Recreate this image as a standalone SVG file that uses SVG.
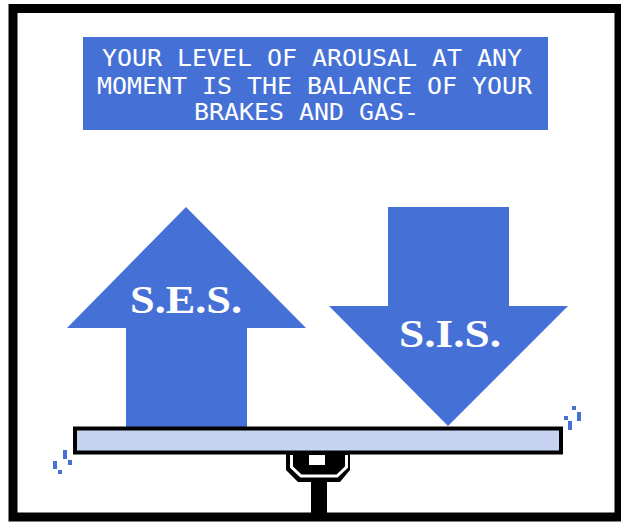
<svg xmlns="http://www.w3.org/2000/svg" width="621" height="523" viewBox="0 0 621 523">
<style>
.blue{fill:#4571D7}
.cap{font-family:"DejaVu Sans Mono","Liberation Mono",monospace;font-size:23px;fill:#FFFFFF}
.lbl{font-family:"Liberation Serif","Times New Roman",serif;font-weight:bold;fill:#FFFFFF}
</style>
<rect x="0" y="0" width="621" height="523" fill="#FFFFFF"/>
<g id="frame">
<rect x="13" y="8.5" width="606" height="508.5" fill="#FFFFFF" stroke="#000000" stroke-width="9"/>
</g>
<g id="caption">
<rect class="blue" x="83" y="37" width="465" height="93"/>
<text class="cap" x="102" y="66" textLength="420" lengthAdjust="spacingAndGlyphs">YOUR LEVEL OF AROUSAL AT ANY</text>
<text class="cap" x="97" y="94" textLength="435" lengthAdjust="spacingAndGlyphs">MOMENT IS THE BALANCE OF YOUR</text>
<text class="cap" x="194" y="120" textLength="225" lengthAdjust="spacingAndGlyphs">BRAKES AND GAS-</text>
</g>
<g id="ses">
<polygon class="blue" points="186,207 306,328 247,328 247,428 126,428 126,328 67,328"/>
<text class="lbl" x="186" y="313" font-size="41" text-anchor="middle" textLength="112" lengthAdjust="spacingAndGlyphs">S.E.S.</text>
</g>
<g id="sis">
<polygon class="blue" points="388,207 509,207 509,306 568,306 448,426 329,306 388,306"/>
<text class="lbl" x="450" y="347" font-size="39" text-anchor="middle" textLength="102" lengthAdjust="spacingAndGlyphs">S.I.S.</text>
</g>
<g id="fulcrum">
<polygon fill="#000000" points="286,454 350,454 350,470 340,482 327,482 327,513 311,513 311,482 298,482 286,470"/>
<polyline points="291.5,455 291.5,467 301,476 337,476 346.5,467 346.5,455" fill="none" stroke="#FFFFFF" stroke-width="3"/>
<rect x="309" y="455" width="16" height="10" fill="#FFFFFF"/>
</g>
<g id="beam">
<rect x="75" y="428.5" width="486" height="24" fill="#C6D4F2" stroke="#000000" stroke-width="4"/>
</g>
<g id="motion-left">
<rect class="blue" x="53" y="461" width="4" height="8"/>
<rect class="blue" x="58" y="470" width="4" height="4"/>
<rect class="blue" x="63" y="450" width="4" height="9"/>
<rect class="blue" x="68" y="460" width="4" height="5"/>
</g>
<g id="motion-right">
<rect class="blue" x="572" y="406" width="4" height="4"/>
<rect class="blue" x="577" y="412" width="4" height="9"/>
<rect class="blue" x="564" y="416" width="4" height="4"/>
<rect class="blue" x="568" y="421" width="4" height="9"/>
</g>
</svg>
